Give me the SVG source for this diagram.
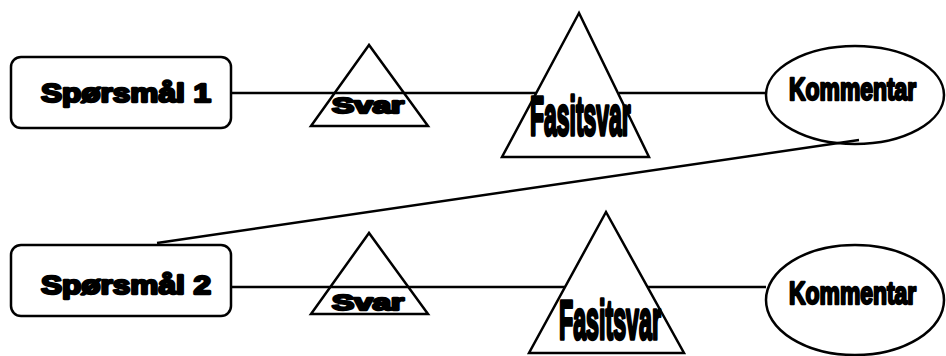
<svg xmlns="http://www.w3.org/2000/svg" width="946" height="356" viewBox="0 0 946 356">
<style>
.shape{fill:none;stroke:#000;stroke-width:2.5}
.box{fill:#fff;stroke:#000;stroke-width:2.5}
.edge{stroke:#000;stroke-width:2.5;fill:none}
.black{font-family:"Liberation Sans",Arial,sans-serif;font-weight:bold;fill:#000;stroke:#000;stroke-width:2.4;stroke-linejoin:round}
.impact{font-family:"Liberation Sans",Arial,sans-serif;font-weight:bold;fill:#000;stroke:#000;stroke-linejoin:round}
</style>
<rect width="946" height="356" fill="#fff"/>
<g id="connectors">
<line class="edge" x1="231" y1="93" x2="537" y2="93"/>
<line class="edge" x1="619" y1="93" x2="766" y2="93"/>
<line class="edge" x1="157" y1="243" x2="859" y2="140"/>
<line class="edge" x1="232" y1="287" x2="565" y2="287"/>
<line class="edge" x1="647" y1="287" x2="766" y2="287"/>
</g>
<g id="q1">
<rect class="box" x="11" y="57" width="220" height="71" rx="10"/>
<text class="black" x="41" y="102" font-size="26" textLength="170" lengthAdjust="spacingAndGlyphs">Spørsmål 1</text>
</g>
<g id="svar1">
<polygon class="shape" points="369,45 311,126 428,126"/>
<text class="black" x="332" y="113" font-size="22" textLength="72" lengthAdjust="spacingAndGlyphs">Svar</text>
</g>
<g id="fasit1">
<polygon class="shape" points="579,13 502,157 649,157"/>
<text class="impact" transform="translate(530,135) scale(0.4,1)" stroke-width="3.5" x="0" y="0" font-size="56" textLength="252" lengthAdjust="spacingAndGlyphs">Fasitsvar</text>
</g>
<g id="komm1">
<ellipse class="shape" cx="855" cy="95" rx="89" ry="49"/>
<text class="impact" transform="translate(789,100) scale(0.74,1)" stroke-width="2.4" x="0" y="0" font-size="31" textLength="172" lengthAdjust="spacingAndGlyphs">Kommentar</text>
</g>
<g id="q2">
<rect class="box" x="11" y="245" width="220" height="71" rx="10"/>
<text class="black" x="41" y="294" font-size="26" textLength="170" lengthAdjust="spacingAndGlyphs">Spørsmål 2</text>
</g>
<g id="svar2">
<polygon class="shape" points="369,233 311,314 428,314"/>
<text class="black" x="332" y="310" font-size="22" textLength="72" lengthAdjust="spacingAndGlyphs">Svar</text>
</g>
<g id="fasit2">
<polygon class="shape" points="606,212 529,353 684,353"/>
<text class="impact" transform="translate(559,339) scale(0.4,1)" stroke-width="3.5" x="0" y="0" font-size="56" textLength="255" lengthAdjust="spacingAndGlyphs">Fasitsvar</text>
</g>
<g id="komm2">
<ellipse class="shape" cx="855" cy="300" rx="89" ry="55"/>
<text class="impact" transform="translate(789,304) scale(0.74,1)" stroke-width="2.4" x="0" y="0" font-size="31" textLength="172" lengthAdjust="spacingAndGlyphs">Kommentar</text>
</g>
</svg>
